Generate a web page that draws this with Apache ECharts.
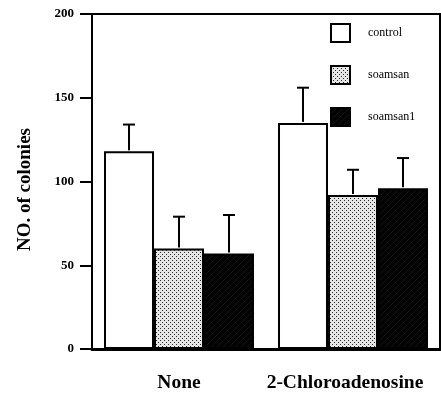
<!DOCTYPE html>
<html>
<head>
<meta charset="utf-8">
<script src="https://cdn.jsdelivr.net/npm/echarts@6/dist/echarts.min.js"></script>
<style>html,body{margin:0;padding:0;background:#fff}#c{width:441px;height:396px}</style>
</head>
<body>
<div id="c"></div>
<script>
const categories = ['None', '2-Chloroadenosine'];
const seriesNames = ['control', 'soamsan', 'soamsan1'];
const controlValues = [118, 135];
const soamsanValues = [60, 92];
const soamsan1Values = [57, 96];
const controlErr = [16, 21];
const soamsanErr = [19, 15];
const soamsan1Err = [23, 18];
const yMin = 0, yMax = 200, yInterval = 50;

function dotPattern() {
  const c = document.createElement('canvas');
  c.width = 4; c.height = 4;
  const g = c.getContext('2d');
  g.fillStyle = '#e6e6e6'; g.fillRect(0, 0, 4, 4);
  g.fillStyle = '#2a2a2a';
  g.fillRect(0, 0, 1, 1); g.fillRect(2, 2, 1, 1);
  return c;
}
function darkPattern() {
  const c = document.createElement('canvas');
  c.width = 6; c.height = 6;
  const g = c.getContext('2d');
  g.fillStyle = '#030303'; g.fillRect(0, 0, 6, 6);
  g.fillStyle = '#111111';
  for (let i = 0; i < 6; i++) g.fillRect(i, 5 - i, 1, 1);
  return c;
}

const fills = ['#ffffff', { image: dotPattern(), repeat: 'repeat' }, { image: darkPattern(), repeat: 'repeat' }];
const values = [controlValues, soamsanValues, soamsan1Values];
const errs = [controlErr, soamsanErr, soamsan1Err];
const catGap = 0.138;

const series = [];
values.forEach((v, i) => {
  series.push({
    name: seriesNames[i], type: 'bar', data: v,
    barGap: '0%', barCategoryGap: (catGap * 100) + '%',
    itemStyle: { color: fills[i], borderColor: '#000', borderWidth: 2 },
    emphasis: { disabled: true }, z: 2
  });
});
values.forEach((v, i) => {
  series.push({
    type: 'custom', silent: true, z: 3,
    data: v.map((val, k) => [k, val, val + errs[i][k]]),
    encode: { x: 0, y: [1, 2] },
    renderItem: function (params, api) {
      const band = api.size([1, 0])[0];
      const bw = band * (1 - catGap) / 3;
      const base = api.coord([api.value(0), api.value(1)]);
      const top = api.coord([api.value(0), api.value(2)]);
      const x = base[0] + (i - 1) * bw;
      const half = 6;
      return {
        type: 'group',
        children: [
          { type: 'line', shape: { x1: x, y1: base[1] - 1, x2: x, y2: top[1] }, style: { stroke: '#000', lineWidth: 2 } },
          { type: 'line', shape: { x1: x - half, y1: top[1], x2: x + half, y2: top[1] }, style: { stroke: '#000', lineWidth: 2 } }
        ]
      };
    }
  });
});

const xData = categories.map((c, k) => k === 1 ? { value: c, textStyle: { padding: [0, 16, 0, 0] } } : c);

const chart = echarts.init(document.getElementById('c'), null, { renderer: 'canvas' });
chart.setOption({
  animation: false,
  backgroundColor: '#fff',
  grid: { left: 92, right: 1, top: 14, bottom: 47, show: true, borderColor: '#000', borderWidth: 2, backgroundColor: 'transparent' },
  legend: {
    data: seriesNames.map(n => ({ name: n, icon: 'rect' })),
    orient: 'vertical', left: 330, top: 23, padding: 0,
    itemWidth: 19, itemHeight: 18, itemGap: 22,
    textStyle: { fontFamily: 'Liberation Serif', fontSize: 12, color: '#000', padding: [0, 0, 0, 13] }
  },
  xAxis: {
    type: 'category', data: xData,
    axisLine: { lineStyle: { color: '#000', width: 3 } },
    axisTick: { alignWithLabel: true, length: 8, lineStyle: { color: '#000', width: 2 } },
    axisLabel: { interval: 0, hideOverlap: false, margin: 24, fontFamily: 'Liberation Serif', fontWeight: 'bold', fontSize: 19.5, color: '#000' }
  },
  yAxis: {
    type: 'value', min: yMin, max: yMax, interval: yInterval,
    name: 'NO. of colonies', nameLocation: 'middle', nameGap: 57,
    nameTextStyle: { fontFamily: 'Liberation Serif', fontWeight: 'bold', fontSize: 19, color: '#000', padding: [0, 16, 0, 0] },
    axisLine: { show: true, lineStyle: { color: '#000', width: 2 } },
    axisTick: { show: true, length: 12, lineStyle: { color: '#000', width: 2 } },
    axisLabel: { margin: 18, fontFamily: 'Liberation Serif', fontWeight: 'bold', fontSize: 13, color: '#000' },
    splitLine: { show: false }
  },
  series: series
});
</script>
</body>
</html>
